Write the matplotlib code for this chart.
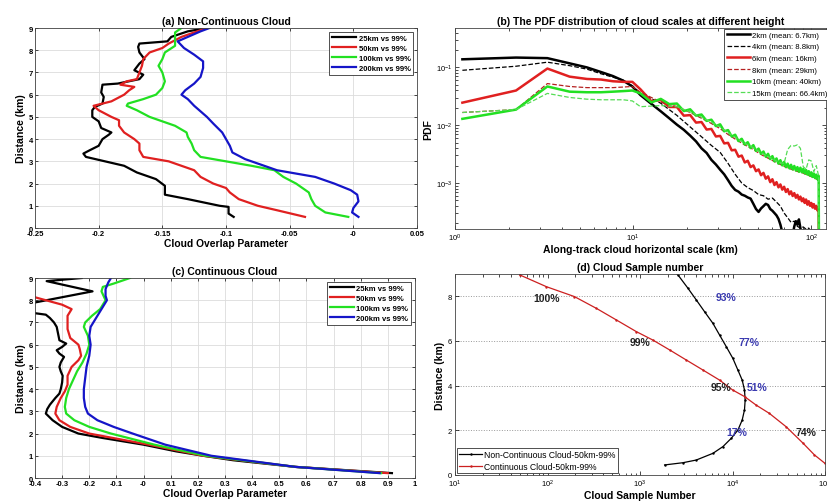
import numpy as np
import matplotlib.pyplot as plt
from matplotlib.ticker import LogLocator, NullFormatter, FormatStrFormatter

plt.rcParams['font.family'] = ['Liberation Sans', 'DejaVu Sans']

blk = 'k'
red = '#e02020'
grn = '#22e022'
blu = '#1515c8'

# ---- (a) Non-Continuous Cloud ----
a25_h = [0.5, 0.65, 0.95, 1.0, 1.3, 1.5, 1.9, 2.2, 2.5, 2.8, 3.0, 3.2, 3.35, 3.5, 3.7, 4.0, 4.2, 4.3, 4.5, 4.8,
         5.0, 5.3, 5.45, 5.6, 5.9, 6.1, 6.45, 6.5, 6.7, 6.9, 7.1, 7.4, 7.6, 7.9, 8.15, 8.3, 8.4, 8.6, 8.85, 9.0]
a25_x = [-0.094, -0.098, -0.098, -0.105, -0.13, -0.148, -0.148, -0.155, -0.17, -0.18, -0.195, -0.21, -0.212,
         -0.207, -0.2, -0.197, -0.192, -0.19, -0.198, -0.2, -0.205, -0.205, -0.203, -0.197, -0.196, -0.198,
         -0.197, -0.185, -0.168, -0.165, -0.172, -0.168, -0.164, -0.168, -0.169, -0.168, -0.146, -0.143, -0.13, -0.115]
a50_h = [0.5, 0.8, 1.0, 1.3, 1.6, 1.8, 2.0, 2.3, 2.6, 3.0, 3.2, 3.5, 3.8, 4.0, 4.3, 4.6, 4.85, 5.0, 5.3, 5.5,
         5.7, 6.0, 6.2, 6.35, 6.45, 6.6, 6.7, 7.0, 7.3, 7.6, 7.9, 8.1, 8.3, 8.6, 8.8, 9.0]
a50_x = [-0.038, -0.06, -0.075, -0.09, -0.097, -0.1, -0.11, -0.12, -0.125, -0.145, -0.165, -0.168, -0.168,
         -0.172, -0.18, -0.184, -0.184, -0.19, -0.2, -0.204, -0.19, -0.18, -0.176, -0.172, -0.183, -0.178,
         -0.17, -0.168, -0.166, -0.165, -0.16, -0.15, -0.145, -0.135, -0.125, -0.115]
a100_h = [0.5, 0.7, 1.0, 1.3, 1.6, 2.0, 2.3, 2.6, 2.8, 3.0, 3.2, 3.5, 3.8, 4.1, 4.3, 4.6, 4.8, 5.0, 5.3, 5.5,
          5.6, 5.8, 6.0, 6.3, 6.6, 7.0, 7.3, 7.6, 7.9, 8.2, 8.5, 8.8, 9.0]
a100_x = [-0.004, -0.022, -0.03, -0.033, -0.035, -0.045, -0.055, -0.062, -0.08, -0.1, -0.12, -0.125, -0.127,
          -0.13, -0.131, -0.14, -0.15, -0.16, -0.17, -0.178, -0.177, -0.165, -0.155, -0.15, -0.148, -0.15,
          -0.153, -0.15, -0.148, -0.14, -0.14, -0.14, -0.135]
a200_h = [0.5, 0.7, 0.9, 1.2, 1.5, 1.7, 2.0, 2.3, 2.6, 2.9, 3.1, 3.4, 3.7, 4.0, 4.3, 4.7, 5.0, 5.5, 5.8, 6.0,
          6.2, 6.5, 6.8, 7.2, 7.5, 7.8, 8.1, 8.4, 8.6, 8.85, 9.0]
a200_x = [0.004, -0.001, 0.0, 0.004, 0.003, -0.002, -0.015, -0.03, -0.06, -0.075, -0.085, -0.095, -0.097, -0.1,
          -0.103, -0.11, -0.115, -0.125, -0.13, -0.135, -0.132, -0.125, -0.12, -0.118, -0.118, -0.125, -0.133,
          -0.138, -0.13, -0.12, -0.113]

# ---- (c) Continuous Cloud ----
c25_h = [0.22, 0.5, 0.8, 1.0, 1.2, 1.5, 1.8, 2.0, 2.3, 2.6, 2.9, 3.1, 3.3, 3.6, 3.8, 4.0, 4.3, 4.6, 4.8, 5.0,
         5.2, 5.45, 5.6, 5.75, 5.9, 6.05, 6.2, 6.5, 6.8, 7.0, 7.2, 7.35, 7.5, 7.8, 7.9, 8.4, 8.86, 9.0]
c25_x = [0.915, 0.56, 0.33, 0.22, 0.12, 0.0, -0.15, -0.24, -0.3, -0.335, -0.36, -0.355, -0.345, -0.325, -0.31,
         -0.305, -0.3, -0.298, -0.305, -0.31, -0.305, -0.293, -0.31, -0.32, -0.3, -0.285, -0.31, -0.315, -0.32,
         -0.33, -0.345, -0.36, -0.45, -0.45, -0.4, -0.188, -0.357, -0.228]
c50_h = [0.22, 0.5, 1.0, 1.5, 2.0, 2.3, 2.6, 2.9, 3.2, 3.6, 3.9, 4.2, 4.6, 5.0, 5.3, 5.5, 5.8, 6.0, 6.3, 6.7,
         7.0, 7.3, 7.6, 7.8, 8.0, 8.2]
c50_x = [0.9, 0.56, 0.22, 0.02, -0.2, -0.27, -0.31, -0.325, -0.32, -0.305, -0.29, -0.28, -0.28, -0.265, -0.24,
         -0.23, -0.235, -0.24, -0.27, -0.28, -0.28, -0.28, -0.265, -0.3, -0.36, -0.42]
c100_h = [0.22, 0.5, 1.0, 1.5, 2.0, 2.3, 2.6, 2.9, 3.2, 3.6, 4.0, 4.4, 4.8, 5.2, 5.6, 6.0, 6.4, 6.8, 7.0, 7.3,
          7.6, 8.0, 8.4, 8.6, 8.75, 9.0]
c100_x = [0.875, 0.56, 0.23, 0.04, -0.12, -0.2, -0.255, -0.285, -0.29, -0.285, -0.275, -0.26, -0.245, -0.225,
          -0.21, -0.2, -0.205, -0.22, -0.215, -0.19, -0.16, -0.14, -0.155, -0.15, -0.11, -0.05]
c200_h = [0.22, 0.5, 1.0, 1.5, 2.0, 2.3, 2.6, 2.9, 3.2, 3.6, 4.0, 4.5, 5.0, 5.5, 6.0, 6.4, 6.8, 7.2, 7.6, 8.0,
          8.2, 8.5, 8.8, 9.0]
c200_x = [0.87, 0.56, 0.25, 0.08, -0.04, -0.11, -0.17, -0.205, -0.215, -0.22, -0.22, -0.215, -0.21, -0.2,
          -0.195, -0.2, -0.195, -0.175, -0.155, -0.135, -0.14, -0.14, -0.13, -0.12]

# ---- (b) PDF of cloud scales (log10 of PDF) ----
pdf_x_head = [1.1, 2.2, 3.3, 4.4, 5.5, 6.6, 7.7, 8.8, 9.9]
pdf_x_tail = [11.0, 12.65, 14.3, 15.95, 17.6, 19.25, 20.9, 22.55, 24.2, 25.85, 27.5, 29.15, 30.8, 32.45, 34.1,
              35.75, 37.4, 39.05, 40.7, 42.35, 44.0, 45.65, 47.3, 48.95, 50.6, 52.25, 53.9, 55.55, 57.2, 58.85,
              60.5, 62.15, 63.8, 65.45, 67.1, 68.75, 70.4, 72.05, 73.7, 75.35, 77.0, 78.65, 80.3, 81.95, 83.6,
              85.25, 86.9, 88.55, 90.2, 91.85, 93.5, 95.15, 96.8, 98.45, 100.1, 101.75, 103.4, 105.05, 106.7,
              108.35, 110.0]
pdf_x_last = 110.8
pdf_log_floor = -5.0

h2_head = [-0.86, -0.83, -0.84, -0.93, -1.0, -1.08, -1.15, -1.23, -1.33]
h2_tail = [-1.48, -1.63, -1.76, -1.88, -1.99, -2.08, -2.18, -2.28, -2.40, -2.48, -2.60, -2.68, -2.77, -2.85,
           -2.95, -3.05, -3.12, -3.15, -3.20, -3.22, -3.25, -3.27, -3.36, -3.45, -3.50, -3.44, -3.40, -3.36,
           -3.38, -3.45, -3.48, -3.52, -3.56, -3.62, -3.72, -3.85, -4.0, -4.1, -4.2, -4.2, -4.1, -3.9, -3.75,
           -3.66, -3.72, -3.63, -3.78, -3.9, -4.2]
h4_head = [-1.05, -0.98, -0.91, -0.97, -1.03, -1.11, -1.17, -1.22, -1.32]
h4_tail = [-1.45, -1.62, -1.83, -2.03, -2.2, -2.35, -2.47, -2.66, -2.85, -3.0, -3.08, -3.13, -3.2, -3.22,
           -3.28, -3.26, -3.33, -3.40, -3.52, -3.60, -3.68, -3.66, -3.75, -3.78, -3.76, -3.8, -3.78, -3.85,
           -4.2, -4.4, -4.5]
h6_head = [-1.61, -1.40, -1.02, -1.16, -1.20, -1.21, -1.24, -1.25, -1.25]
h6_tail = [-1.38, -1.585, -1.565, -1.685, -1.685, -1.835, -1.825, -1.955, -1.945, -2.075, -2.065, -2.195,
           -2.185, -2.315, -2.305, -2.435, -2.425, -2.545, -2.525, -2.645, -2.615, -2.725, -2.695, -2.795,
           -2.765, -2.865, -2.825, -2.925, -2.885, -2.985, -2.935, -3.035, -2.985, -3.075, -3.025, -3.115,
           -3.065, -3.155, -3.105, -3.195, -3.145, -3.225, -3.175, -3.255, -3.205, -3.285, -3.235, -3.315,
           -3.265, -3.345, -3.285, -3.375, -3.315, -3.395, -3.345, -3.425, -3.365, -3.445, -3.395, -3.475,
           -3.415]
h8_head = [-1.78, -1.73, -1.28, -1.33, -1.35, -1.35, -1.35, -1.34, -1.33]
h8_tail = [-1.43, -1.60, -1.68, -1.78, -1.88, -1.97, -2.06, -2.16, -2.24, -2.31, -2.37, -2.42, -2.48, -2.53,
           -2.57, -2.61, -2.65, -2.68, -2.71, -2.74, -2.76, -2.78, -2.80, -2.81, -2.83, -2.85, -2.87, -2.89,
           -2.91, -2.93, -2.95]
h10_head = [-1.89, -1.73, -1.33, -1.42, -1.43, -1.43, -1.42, -1.41, -1.40]
h10_tail = [-1.45, -1.605, -1.545, -1.635, -1.625, -1.755, -1.725, -1.835, -1.815, -1.925, -1.905, -2.015,
            -1.985, -2.105, -2.085, -2.195, -2.165, -2.275, -2.235, -2.335, -2.295, -2.395, -2.345, -2.445,
            -2.405, -2.495, -2.455, -2.545, -2.495, -2.585, -2.535, -2.625, -2.575, -2.665, -2.605, -2.695,
            -2.635, -2.725, -2.665, -2.745, -2.685, -2.765, -2.705, -2.785, -2.725, -2.805, -2.735, -2.815,
            -2.755, -2.835, -2.775, -2.855, -2.795, -2.875, -2.815, -2.895, -2.835, -2.915, -2.855, -2.935,
            -2.875]
h15_head = [-1.78, -1.73, -1.45, -1.52, -1.55, -1.56, -1.56, -1.56, -1.58]
h15_tail = [-1.68, -1.66, -1.68, -1.77, -1.86, -1.95, -2.03, -2.13, -2.21, -2.28, -2.34, -2.39, -2.45, -2.50,
            -2.54, -2.58, -2.62, -2.65, -2.66, -2.42, -2.35, -2.36, -2.34, -2.40, -2.72, -2.76, -2.60, -2.62,
            -2.80, -2.70, -2.88]

# ---- (d) Cloud sample number ----
nc_n = [1845, 2910, 4055, 6140, 7870, 9680, 11430, 12720, 13470, 13700, 13470, 12720, 11430, 10090, 8550,
        7240, 6140, 4990, 4055, 3300, 2570, 2500]
nc_h = [0.45, 0.55, 0.67, 0.97, 1.27, 1.64, 2.01, 2.46, 2.91, 3.36, 3.81, 4.25, 4.70, 5.22, 5.75, 6.27,
        6.79, 7.31, 7.84, 8.36, 8.96, 9.05]
co_n = [50, 97.5, 195, 338, 556, 912, 1380, 2090, 3160, 4790, 7240, 10000, 13500, 18000, 25000, 38000,
        58000, 76800, 100000, 145000]
co_h = [8.96, 8.43, 7.99, 7.46, 6.94, 6.42, 6.04, 5.6, 5.15, 4.70, 4.25, 3.81, 3.51, 3.13, 2.76, 2.16,
        1.42, 0.9, 0.52, -0.07]
pct_black = ['100%', '99%', '95%', '74%']
pct_black_n = [98, 1000, 7600, 62000]
pct_black_h = [7.94, 5.94, 3.96, 1.94]
pct_blue = ['93%', '77%', '51%', '17%']
pct_blue_n = [8500, 15000, 18500, 11000]
pct_blue_h = [7.96, 5.94, 3.96, 1.94]

labels_ac = ['25km vs 99%', '50km vs 99%', '100km vs 99%', '200km vs 99%']
labels_b = ['2km (mean: 6.7km)', '4km (mean: 8.8km)', '6km (mean: 16km)', '8km (mean: 29km)',
            '10km (mean: 40km)', '15km (mean: 66.4km)']


def style_linear(ax, xticks):
    ax.set_xticks(xticks)
    ax.set_yticks(range(0, 10))
    ax.xaxis.set_major_formatter(FormatStrFormatter('%g'))
    ax.grid(True, color='#dcdcdc', lw=0.6)
    ax.set_axisbelow(True)
    ax.tick_params(direction='in', length=2.5, width=0.5, labelsize=5.5, pad=1.5, top=True, right=True)
    for lbl in ax.get_xticklabels() + ax.get_yticklabels():
        lbl.set_fontweight('bold')
    for s in ax.spines.values():
        s.set_linewidth(0.6)
        s.set_color('#444444')


def overlap_panel(ax, curves, xlim, xticks, title):
    cols = [blk, red, grn, blu]
    for (x, h), c, lab in zip(curves, cols, labels_ac):
        ax.plot(x, h, color=c, lw=1.6, label=lab)
    ax.set_xlim(xlim)
    ax.set_ylim(0, 9)
    style_linear(ax, xticks)
    ax.set_title(title, fontsize=7.5, fontweight='bold', pad=3)
    ax.set_xlabel('Cloud Overlap Parameter', fontsize=7.4, fontweight='bold', labelpad=1)
    ax.set_ylabel('Distance (km)', fontsize=7.6, fontweight='bold', labelpad=2)
    leg = ax.legend(loc='upper right', handlelength=3.2, handletextpad=0.3,
                    labelspacing=0.35, borderpad=0.35, borderaxespad=0.5, fancybox=False,
                    framealpha=1, edgecolor='#333333', prop={'weight': 'bold', 'size': 5.5})
    leg.get_frame().set_linewidth(0.6)


fig = plt.figure(figsize=(8.27, 5.02), dpi=100)

ax_a = fig.add_axes([0.0423, 0.5438, 0.462, 0.3984])
overlap_panel(ax_a, [(a25_x, a25_h), (a50_x, a50_h), (a100_x, a100_h), (a200_x, a200_h)],
              (-0.25, 0.05), np.arange(-0.25, 0.051, 0.05).round(2), '(a) Non-Continuous Cloud')

ax_c = fig.add_axes([0.0423, 0.0458, 0.4595, 0.3984])
overlap_panel(ax_c, [(c25_x, c25_h), (c50_x, c50_h), (c100_x, c100_h), (c200_x, c200_h)],
              (-0.4, 1.0), np.arange(-0.4, 1.01, 0.1).round(1), '(c) Continuous Cloud')

# (b)
ax_b = fig.add_axes([0.5502, 0.5418, 0.4486, 0.4004])
b_series = [
    (pdf_x_head + pdf_x_tail[:len(h2_tail)], h2_head + h2_tail, blk, '-', 1.8),
    (pdf_x_head + pdf_x_tail[::2], h4_head + h4_tail, blk, '--', 0.9),
    (pdf_x_head + pdf_x_tail + [pdf_x_last], h6_head + h6_tail + [pdf_log_floor], red, '-', 1.8),
    (pdf_x_head + pdf_x_tail[::2] + [pdf_x_last], h8_head + h8_tail + [pdf_log_floor], '#b52020', '--', 0.9),
    (pdf_x_head + pdf_x_tail + [pdf_x_last], h10_head + h10_tail + [pdf_log_floor], grn, '-', 1.8),
    (pdf_x_head + pdf_x_tail[::2] + [pdf_x_last], h15_head + h15_tail + [pdf_log_floor], '#55dd55', '--', 0.9),
]
for (x, lg, c, ls, lw), lab in zip(b_series, labels_b):
    ax_b.plot(x, 10 ** np.array(lg), color=c, ls=ls, lw=lw, label=lab)
ax_b.set_xscale('log')
ax_b.set_yscale('log')
ax_b.set_xlim(1, 121)
ax_b.set_ylim(1.6e-4, 0.48)
ax_b.tick_params(which='both', direction='in', labelsize=5.5, width=0.5, pad=2, top=True, right=True)
ax_b.tick_params(which='major', length=3)
ax_b.tick_params(which='minor', length=1.8)
ax_b.yaxis.set_minor_formatter(NullFormatter())
ax_b.xaxis.set_minor_formatter(NullFormatter())
for s in ax_b.spines.values():
    s.set_linewidth(0.6)
    s.set_color('#444444')
ax_b.set_title('(b) The PDF distribution of cloud scales at different height', fontsize=7.5,
               fontweight='bold', pad=3)
ax_b.set_xlabel('Along-track cloud horizontal scale (km)', fontsize=7.5, fontweight='bold', labelpad=1)
ax_b.set_ylabel('PDF', fontsize=7.5, fontweight='bold', labelpad=2)
leg = ax_b.legend(loc='upper left', bbox_to_anchor=(0.726, 0.996), fontsize=5.6, handlelength=3.0,
                  handletextpad=0.3, labelspacing=0.55, borderpad=0.3, borderaxespad=0.0,
                  fancybox=False, framealpha=1, edgecolor='#333333')
leg.get_frame().set_linewidth(0.6)

# (d)
ax_d = fig.add_axes([0.5502, 0.0518, 0.4474, 0.4004])
ax_d.plot(nc_n, nc_h, color=blk, lw=0.9, marker='.', ms=1.5, label='Non-Continuous Cloud-50km-99%')
ax_d.plot(co_n, co_h, color='#cc2020', lw=0.9, marker='.', ms=1.5, label='Continuous Cloud-50km-99%')
for t, n, h in zip(pct_black, pct_black_n, pct_black_h):
    ax_d.text(n, h, t, ha='center', va='center', fontsize=7.5, fontweight='bold', color='#222222')
for t, n, h in zip(pct_blue, pct_blue_n, pct_blue_h):
    ax_d.text(n, h, t, ha='center', va='center', fontsize=7.5, fontweight='bold', color='#3a3ab0')
ax_d.set_xscale('log')
ax_d.set_xlim(10, 1e5)
ax_d.set_ylim(0, 9)
ax_d.set_yticks([0, 2, 4, 6, 8])
ax_d.xaxis.set_major_locator(LogLocator(base=10, numticks=10))
ax_d.xaxis.set_minor_formatter(NullFormatter())
ax_d.yaxis.grid(True, color='#999999', ls=':', lw=0.7)
ax_d.set_axisbelow(True)
ax_d.tick_params(which='both', direction='in', labelsize=5.5, width=0.5, pad=2, top=True, right=True)
ax_d.tick_params(which='major', length=3)
ax_d.tick_params(which='minor', length=1.8)
for s in ax_d.spines.values():
    s.set_linewidth(0.6)
    s.set_color('#444444')
ax_d.set_title('(d) Cloud Sample number', fontsize=7.5, fontweight='bold', pad=3)
ax_d.set_xlabel('Cloud Sample Number', fontsize=7.5, fontweight='bold', labelpad=1)
ax_d.set_ylabel('Distance (km)', fontsize=7.5, fontweight='bold', labelpad=2)
leg = ax_d.legend(loc='lower left', fontsize=6.2, handlelength=2.6, handletextpad=0.3, labelspacing=0.3,
                  borderpad=0.3, borderaxespad=0.2, fancybox=False, framealpha=1, edgecolor='#333333')
leg.get_frame().set_linewidth(0.6)

fig.savefig('out.png', dpi=100)
